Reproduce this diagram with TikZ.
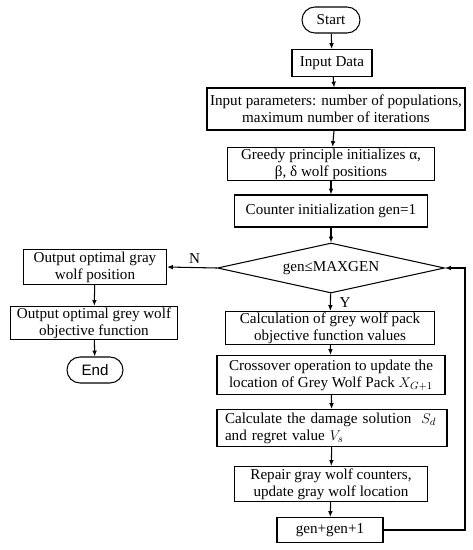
\documentclass[tikz,border=0pt]{standalone}
\usepackage{fontspec}
\setmainfont{Liberation Serif}
\newfontfamily\endfont{Liberation Sans}
\usepackage{tikz}
\usetikzlibrary{shapes.geometric,arrows.meta,positioning}

\tikzset{
  txt/.style={font=\fontsize{12.9}{14.5}\selectfont},
  proc/.style={txt, draw, line width=0.9pt, align=center, inner sep=1pt},
  term/.style={txt, draw, line width=0.9pt, rounded corners=13*0.03cm, inner sep=1pt},
  cond/.style={txt, draw, line width=0.9pt, diamond, aspect=4.5, inner sep=1pt},
  arr/.style={-{Latex[length=5pt,width=4pt]}, line width=0.9pt}
}

\begin{document}
\begin{tikzpicture}[x=0.03cm, y=-0.03cm]
\useasboundingbox (0,0) rectangle (473,550);
% Columna principal
\node[term, minimum width=58*0.03cm, minimum height=26*0.03cm] (start) at (331,20) {Start};
\node[proc, minimum width=80*0.03cm, minimum height=27*0.03cm] (data) at (332,63) {Input Data};
\node[proc, minimum width=258*0.03cm, minimum height=42*0.03cm] (param) at (336,109)
  {Input parameters: number of populations,\\maximum number of iterations};
\node[proc, minimum width=207*0.03cm, minimum height=32*0.03cm] (greedy) at (331,164)
  {Greedy principle initializes α,\\β, δ wolf positions};
\node[proc, minimum width=193*0.03cm, minimum height=32*0.03cm] (counter) at (331,211)
  {Counter initialization gen=1};
\node[cond, minimum width=227*0.03cm, minimum height=50*0.03cm] (gen) at (331,268) {gen≤MAXGEN};
\node[proc, minimum width=209*0.03cm, minimum height=31*0.03cm] (calc) at (330,328)
  {Calculation of grey wolf pack\\objective function values};
\node[proc, minimum width=228*0.03cm, minimum height=39*0.03cm] (cross) at (331,375)
  {Crossover operation to update the\\location of Grey Wolf Pack $X_{G+1}$};
\node[proc, align=left, minimum width=230*0.03cm, minimum height=37*0.03cm, text width=214*0.03cm] (damage) at (332,428)
  {Calculate the damage solution \ $S_d$\\and regret value $V_s$};
\node[proc, minimum width=193*0.03cm, minimum height=35*0.03cm] (repair) at (331,484)
  {Repair gray wolf counters,\\update gray wolf location};
\node[proc, minimum width=106*0.03cm, minimum height=25*0.03cm] (inc) at (330,530) {gen+gen+1};

% Columna de salida
\node[proc, minimum width=143*0.03cm, minimum height=35*0.03cm] (outpos) at (95,267)
  {Output optimal gray\\wolf position};
\node[proc, minimum width=167*0.03cm, minimum height=33*0.03cm] (outobj) at (94,323)
  {Output optimal grey wolf\\objective function};
\node[term, minimum width=56*0.03cm, minimum height=26*0.03cm, font=\endfont\fontsize{12.9}{14.5}\selectfont] (stop) at (95,370) {End};

% Flechas
\foreach \a/\b in {start/data, data/param, param/greedy, greedy/counter, counter/gen,
                   gen/calc, calc/cross, cross/damage, damage/repair, repair/inc} {
  \draw[arr] (\a) -- (\b);
}
\draw[arr] (gen.west) -- node[txt, above, pos=0.45] (no) {N} (outpos.east);
\draw[arr] (outpos) -- (outobj);
\draw[arr] (outobj) -- (stop);
\node[txt] (yes) at (345,303) {Y};
% Retorno del bucle
\coordinate (back) at (465,268);
\draw[arr] (inc.east) -| (back) -- (gen.east);
\end{tikzpicture}
\end{document}
